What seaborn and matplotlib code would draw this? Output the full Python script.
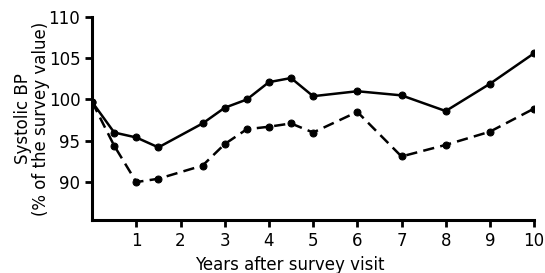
import matplotlib
matplotlib.use("Agg")
import matplotlib.pyplot as plt
import pandas as pd
import seaborn as sns

# Data
years = [0, 0.5, 1, 1.5, 2.5, 3, 3.5, 4, 4.5, 5, 6, 7, 8, 9, 10]
solid_bp = [99.7, 96.0, 95.4, 94.2, 97.1, 99.0, 100.0, 102.1, 102.6, 100.4,
            101.0, 100.5, 98.6, 101.9, 105.6]
dashed_bp = [99.7, 94.4, 90.0, 90.4, 92.0, 94.6, 96.4, 96.7, 97.1, 96.0,
             98.5, 93.1, 94.5, 96.1, 98.9]
x_ticks = [1, 2, 3, 4, 5, 6, 7, 8, 9, 10]
y_ticks = [90, 95, 100, 105, 110]

df = pd.DataFrame({
    "year": years * 2,
    "bp": solid_bp + dashed_bp,
    "group": ["solid"] * len(years) + ["dashed"] * len(years),
})

sns.set_style("ticks")
plt.rcParams["font.family"] = ["DejaVu Sans"]
plt.rcParams["text.color"] = "black"
plt.rcParams["axes.labelcolor"] = "black"

fig = plt.figure(figsize=(5.45, 2.73), dpi=100)
ax = fig.add_axes([0.169, 0.194, 0.811, 0.744])

sns.lineplot(data=df[df.group == "solid"], x="year", y="bp", ax=ax,
             color="black", marker="o", markersize=5, linewidth=1.8,
             markeredgecolor="black")
sns.lineplot(data=df[df.group == "dashed"], x="year", y="bp", ax=ax,
             color="black", marker="o", markersize=5, linewidth=1.8,
             markeredgecolor="black", linestyle=(0, (4.5, 2.5)))

ax.set_xlim(0, 10)
ax.set_ylim(85.4, 110)
ax.set_xticks(x_ticks)
ax.set_yticks(y_ticks)
ax.tick_params(axis="both", width=2, length=5, labelsize=12, color="black",
               labelcolor="black")
for s in ["top", "right"]:
    ax.spines[s].set_visible(False)
for s in ["left", "bottom"]:
    ax.spines[s].set_linewidth(2.2)
    ax.spines[s].set_color("black")

ax.set_xlabel("Years after survey visit", fontsize=12, color="black")
ax.xaxis.set_label_coords(0.447, -0.175)
ax.set_ylabel("Systolic BP\n(% of the survey value)", fontsize=12,
              linespacing=1.0, color="black")
ax.yaxis.set_label_coords(-0.095, 0.5)

fig.savefig("out.png", dpi=100)
